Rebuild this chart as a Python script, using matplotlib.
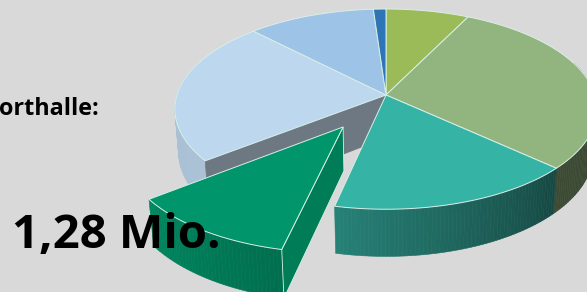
import numpy as np
import matplotlib
matplotlib.use("Agg")
import matplotlib.pyplot as plt
from matplotlib.patches import Polygon
from matplotlib.colors import to_rgb

# ---- data (shares in %, clockwise from 12 o'clock) ----
values = [7.3, 29.5, 16.6, 11.1, 23.2, 11.2, 1.1]
top_colors = ["#9bbb59", "#92b47e", "#35b3a5", "#00956a", "#bdd7ee", "#9dc3e6", "#2e75b6"]
exploded = [False, False, False, True, False, False, False]
label_small = "orthalle:"
label_big = "1,28 Mio."

# ---- 3D projection settings (layout) ----
CX, CY, S = 386.0, 95.0, 209.0
ELEV = np.radians(28.0)
DIST = 6.26
H = 0.235
EXPL = 0.368
BG = "#d9d9d9"


def proj(X, Y, Z):
    X, Y, Z = np.asarray(X, float), np.asarray(Y, float), np.asarray(Z, float)
    v = Y * np.sin(ELEV) + Z * np.cos(ELEV)
    w = DIST + Y * np.cos(ELEV) - Z * np.sin(ELEV)
    return CX + S * X * DIST / w, CY - S * v * DIST / w


def shade(theta):
    return np.interp(theta, [-200, -180, -142, -102, -45, 0, 20],
                     [0.89, 0.89, 0.9, 0.72, 0.42, 0.38, 0.38])


fig = plt.figure(figsize=(5.87, 2.92), dpi=100)
fig.patch.set_facecolor(BG)
ax = fig.add_axes([0, 0, 1, 1])
ax.set_xlim(0, 587)
ax.set_ylim(292, 0)
ax.axis("off")
ax.set_facecolor(BG)

# slice angles
tot = float(sum(values))
slices = []
start = 90.0
for v, c, ex in zip(values, top_colors, exploded):
    t1 = start
    t0 = start - v / tot * 360.0
    start = t0
    slices.append((t0, t1, c, ex))


def draw_wall(t0, t1, color, ox, oy, z, expl=False):
    a = max(t0, -200.0)
    b = min(t1, 20.0)
    if a >= b:
        return
    n = max(int((b - a) / 1.0), 2)
    ts = np.linspace(a, b, n + 1)
    base = np.array(to_rgb(color))
    for i in range(n):
        th = np.radians([ts[i], ts[i + 1]])
        X = np.cos(th) + ox
        Y = np.sin(th) + oy
        xt, yt = proj(X, Y, [0, 0])
        xb, yb = proj(X, Y, [-H, -H])
        tm = 0.5 * (ts[i] + ts[i + 1])
        f = np.interp(tm, [t0, t1], [0.9, 0.74]) if expl else shade(tm)
        col = np.clip(base * f, 0, 1)
        poly = Polygon([(xt[0], yt[0]), (xt[1], yt[1]), (xb[1], yb[1]), (xb[0], yb[0])],
                       closed=True, facecolor=col, edgecolor=col, linewidth=0.4, zorder=z)
        ax.add_patch(poly)


def top_poly(t0, t1, ox, oy):
    ts = np.radians(np.linspace(t0, t1, 120))
    X = np.concatenate([[ox], np.cos(ts) + ox])
    Y = np.concatenate([[oy], np.sin(ts) + oy])
    x, y = proj(X, Y, np.zeros_like(X))
    return np.column_stack([x, y])


def cut_face(theta, ox, oy):
    th = np.radians(theta)
    X = np.array([ox, np.cos(th) + ox, np.cos(th) + ox, ox])
    Y = np.array([oy, np.sin(th) + oy, np.sin(th) + oy, oy])
    Z = np.array([0, 0, -H, -H])
    x, y = proj(X, Y, Z)
    return np.column_stack([x, y])


edge = "#d8efe8"

# main pie: walls and visible cut faces
for t0, t1, c, ex in slices:
    if ex:
        continue
    draw_wall(t0, t1, c, 0, 0, 2)
for i, (t0, t1, c, ex) in enumerate(slices):
    if ex:
        nb = slices[i + 1]
        ax.add_patch(Polygon(cut_face(nb[1], 0, 0), closed=True, facecolor="#6d7882",
                             edgecolor="#6d7882", linewidth=0.5, zorder=2.5))
# main pie tops
for t0, t1, c, ex in slices:
    if ex:
        continue
    ax.add_patch(Polygon(top_poly(t0, t1, 0, 0), closed=True, facecolor=c,
                         edgecolor=edge, linewidth=0.7, zorder=3))

# exploded slice
for t0, t1, c, ex in slices:
    if not ex:
        continue
    mid = np.radians(0.5 * (t0 + t1))
    ox, oy = EXPL * np.cos(mid), EXPL * np.sin(mid)
    draw_wall(t0, t1, c, ox, oy, 4, expl=True)
    ax.add_patch(Polygon(cut_face(t1, ox, oy), closed=True, facecolor="#007c57",
                         edgecolor=edge, linewidth=0.6, zorder=4.5))
    ax.add_patch(Polygon(top_poly(t0, t1, ox, oy), closed=True, facecolor=c,
                         edgecolor=edge, linewidth=0.7, zorder=5))

ax.text(-1, 115, label_small, fontsize=16.8, fontweight="bold", family="Open Sans",
        color="black", ha="left", va="baseline", zorder=10)
ax.text(12, 248, label_big, fontsize=34, fontweight="bold", family="Open Sans",
        color="black", ha="left", va="baseline", zorder=10)

fig.savefig("out.png", dpi=100, facecolor=BG)
